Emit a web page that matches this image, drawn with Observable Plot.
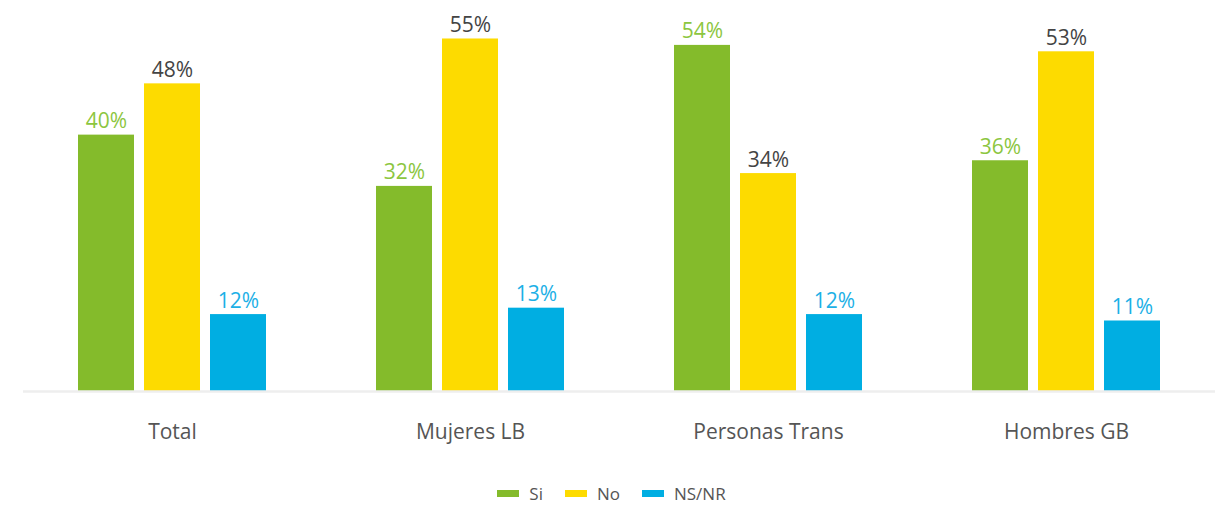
<!DOCTYPE html>
<html><head><meta charset="utf-8">
<script src="https://cdn.jsdelivr.net/npm/d3@7"></script>
<script src="https://cdn.jsdelivr.net/npm/@observablehq/plot@0.6"></script>
<style>
body{margin:0;background:#fff;font-family:"Open Sans",sans-serif;}
#legend{display:flex;justify-content:center;align-items:center;height:47px;padding-top:20px;box-sizing:border-box;font-size:17px;color:#555;}
.item{display:flex;align-items:center;margin:0 11px;}
.sw{width:22px;height:7px;margin-right:10px;}
</style></head>
<body>
<div id="chart"></div>
<div id="legend"></div>
<script>
const categories = ["Total", "Mujeres LB", "Personas Trans", "Hombres GB"];
const series = ["Si", "No", "NS/NR"];
const siValues = [40, 32, 54, 36];
const noValues = [48, 55, 34, 53];
const nsnrValues = [12, 13, 12, 11];
const barColors = ["#84bb2b", "#fddb00", "#00aee2"];
const labelColors = ["#8cc63f", "#444444", "#1cb0e6"];

const seriesValues = [siValues, noValues, nsnrValues];
const data = [];
categories.forEach((c, i) => series.forEach((s, j) => data.push({category: c, series: s, value: seriesValues[j][i]})));

const chart = Plot.plot({
  width: 1223,
  height: 460,
  marginLeft: 23,
  marginRight: 8,
  marginTop: 9,
  marginBottom: 69,
  style: {fontFamily: "'Open Sans', sans-serif", background: "#fff"},
  fx: {domain: categories, padding: 0, label: null, axis: null},
  x: {domain: series, paddingInner: 0.15, paddingOuter: 0.8, axis: null},
  y: {domain: [0, 59.6], axis: null},
  color: {domain: series, range: barColors},
  marks: [
    Plot.barY(data, {fx: "category", x: "series", y: "value", fill: "series"}),
    Plot.ruleY([0], {stroke: "#eeeeee", strokeWidth: 2.5}),
    Plot.text(data, {fx: "category", x: "series", y: "value", text: d => d.value + "%",
      fill: d => labelColors[series.indexOf(d.series)], lineAnchor: "bottom", dy: -7, fontSize: 21}),
    Plot.axisFx({anchor: "bottom", tickSize: 0, tickPadding: 33, fontSize: 21, color: "#555", label: null})
  ]
});
document.getElementById("chart").append(chart);

const legend = document.getElementById("legend");
series.forEach((s, j) => {
  const it = document.createElement("div");
  it.className = "item";
  it.innerHTML = `<span class="sw" style="background:${barColors[j]}"></span><span>${s}</span>`;
  legend.append(it);
});
</script>
</body></html>
